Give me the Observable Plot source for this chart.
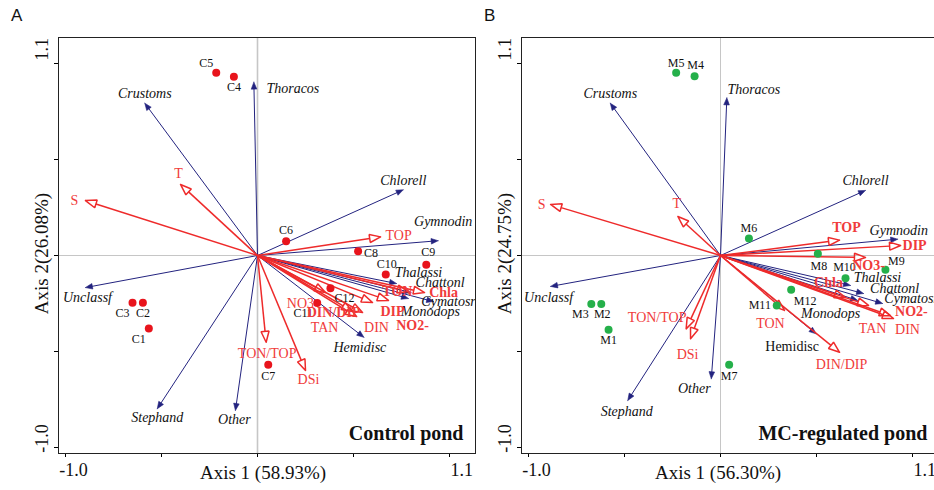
<!DOCTYPE html>
<html>
<head>
<meta charset="utf-8">
<script src="https://cdn.jsdelivr.net/npm/d3@7"></script>
<script src="https://cdn.jsdelivr.net/npm/@observablehq/plot@0.6"></script>
<style>
html, body { margin: 0; padding: 0; overflow: hidden; background: #fff; }
body { width: 934px; height: 490px; position: relative; }
#panelA { position: absolute; left: 0; top: 0; width: 480px; height: 490px; }
#panelB { position: absolute; left: 480px; top: 0; width: 458px; height: 490px; }
.letter { position: absolute; top: 7px; font-family: "Liberation Sans", Arial, sans-serif; font-size: 17px; color: #111; line-height: 1; }
</style>
</head>
<body>
<div id="panelA"></div>
<div id="panelB"></div>
<div class="letter" style="left:11px">A</div>
<div class="letter" style="left:484px">B</div>
<script>
// ---------- Panel A: Control pond ----------
const sitesA = ["C1","C2","C3","C4","C5","C6","C7","C8","C9","C10","C11","C12"];
const siteAx = [-0.566, -0.597, -0.651, -0.123, -0.215, 0.149, 0.056, 0.524, 0.879, 0.668, 0.311, 0.380];
const siteAy = [-0.380, -0.246, -0.246, 0.931, 0.952, 0.074, -0.569, 0.022, -0.048, -0.099, -0.248, -0.170];

const speciesA = ["Crustoms","Thoracos","Chlorell","Gymnodin","Thalassi","Chattonl","Cymatosr","Monodops","Hemidisc","Other","Stephand","Unclassf"];
const specAx = [-0.587, -0.019, 0.759, 0.941, 0.724, 0.800, 0.917, 0.786, 0.554, -0.115, -0.522, -0.896];
const specAy = [0.793, 0.903, 0.342, 0.077, -0.146, -0.193, -0.240, -0.224, -0.426, -0.807, -0.798, -0.167];

const envA = ["S","T","TOP","NO3","DIN/DIP","TAN","DIN","NO2-","DIP","TON","Chla","TON/TOP","DSi"];
const envAx = [-0.896, -0.401, 0.641, 0.354, 0.495, 0.516, 0.547, 0.599, 0.682, 0.786, 0.870, 0.045, 0.250];
const envAy = [0.286, 0.370, 0.097, -0.193, -0.292, -0.318, -0.297, -0.245, -0.234, -0.188, -0.193, -0.452, -0.599];

// ---------- Panel B: MC-regulated pond ----------
const sitesB = ["M1","M2","M3","M4","M5","M6","M7","M8","M9","M10","M11","M12"];
const siteBx = [-0.583, -0.621, -0.673, -0.135, -0.231, 0.148, 0.045, 0.507, 0.859, 0.651, 0.293, 0.368];
const siteBy = [-0.387, -0.252, -0.252, 0.934, 0.952, 0.089, -0.569, 0.009, -0.074, -0.118, -0.260, -0.179];

const speciesB = ["Crustoms","Thoracos","Chlorell","Gymnodin","Thalassi","Chattonl","Cymatosr","Monodops","Hemidisc","Other","Stephand","Unclassf"];
const specBx = [-0.574, 0.033, 0.755, 0.923, 0.677, 0.745, 0.844, 0.714, 0.498, -0.048, -0.483, -0.885];
const specBy = [0.793, 0.821, 0.339, 0.085, -0.156, -0.198, -0.250, -0.234, -0.408, -0.642, -0.755, -0.161];

const envB = ["S","T","TOP","DIP","NO3-","Chla","TAN","NO2-","DIN","TON","DIN/DIP","TON/TOP","DSi"];
const envBx = [-0.885, -0.222, 0.620, 0.938, 0.755, 0.651, 0.771, 0.885, 0.901, 0.333, 0.620, -0.179, -0.156];
const envBy = [0.266, 0.203, 0.080, 0.052, -0.010, -0.219, -0.260, -0.313, -0.328, -0.286, -0.504, -0.382, -0.434];

// axis text
const tickVals = [-1, -0.5, 0, 0.5, 1];
const tickLabelVals = [-1.0, 1.1];
const tickLabels = ["-1.0", "1.1"];

// ---------- label placement (pixel offsets of label centres from points) ----------
const siteAOff = [[-10,11],[0,10],[-10,10],[0,10],[-10,-10],[0,-11],[0,11],[13,2],[2,-13],[1,-10],[-14,10],[14,10]];
const specAOff = [[0,-10],[39,6],[0,-9],[5,-19],[22,-11],[29,-10],[15,0],[22,13],[-4,10],[-1,9],[0,9],[2,10]];
const envAOff = [[-11,0],[-2,-11],[18,-1],[-25,11],[-19,1],[-32,11],[14,15],[40,23],[4,11],[-11,0],[19,0],[1,11],[3,9]];
const siteBOff = [[0,10],[1,10],[-11,10],[1,-11],[0,-10],[0,-10],[0,11],[1,12],[11,-9],[-1,-11],[-17,0],[14,11]];
const specBOff = [[0,-10],[27,-8],[0,-10],[1,-9],[27,-8],[31,-5],[29,-5],[-27,13],[-24,13],[-17,10],[-1,11],[-2,11]];
const envBOff = [[-9,0],[-1,-13],[7,-13],[14,0],[3,8],[-17,-15],[4,23],[21,-4],[14,11],[-14,13],[2,12],[-29,-11],[-3,16]];
const xTickShift = [8, -7];
const yTickShift = [-9, 5];

// ---------- styles ----------
const K = 192; // pixels per unit on both axes (isotropic biplot)
const BLUE = "#23237f", RED = "#ee2b2b", RED_TEXT = "#f03b3b";
const SERIF = "Liberation Serif, Times New Roman, serif";
const BL = 7, BW = 2.8, RL = 11, RW = 4;

function withLabels(names, xs, ys, offs) {
  return names.map((n, i) => ({n, x: xs[i], y: ys[i], lx: xs[i] + offs[i][0] / K, ly: ys[i] - offs[i][1] / K}));
}
function withBase(data, len) {
  return data.map(d => {
    const r = Math.hypot(d.x, d.y);
    return {...d, bx: d.x - d.x / r * len / K, by: d.y - d.y / r * len / K};
  });
}
function heads(data, len, half) {
  const out = [];
  data.forEach(d => {
    const r = Math.hypot(d.x, d.y), ux = d.x / r, uy = d.y / r;
    const L = len / K, W = half / K;
    const bx = d.x - ux * L, by = d.y - uy * L;
    out.push({id: d.n, x: d.x, y: d.y},
             {id: d.n, x: bx - uy * W, y: by + ux * W},
             {id: d.n, x: bx + uy * W, y: by - ux * W},
             {id: d.n, x: d.x, y: d.y});
  });
  return out;
}

function panel(cfg) {
  const sites = withLabels(cfg.sites, cfg.sx, cfg.sy, cfg.sOff);
  const spec = withBase(withLabels(cfg.spec, cfg.px, cfg.py, cfg.pOff), BL - 1);
  const env = withBase(withLabels(cfg.env, cfg.ex, cfg.ey, cfg.eOff), RL);
  const xt = tickLabels.map((t, i) => ({t, v: tickLabelVals[i] + xTickShift[i] / K}));
  const yt = tickLabels.map((t, i) => ({t, v: tickLabelVals[i] - yTickShift[i] / K}));
  const T = {fontFamily: SERIF};
  return Plot.plot({
    width: cfg.width, height: 490,
    marginLeft: cfg.marginLeft, marginRight: cfg.marginRight, marginTop: 37, marginBottom: 37,
    style: {fontFamily: SERIF, background: "white", maxWidth: "none", overflow: "hidden"},
    x: {domain: [-1.0365, 1.1354], ticks: tickVals, tickFormat: () => "", tickSize: 4, label: null},
    y: {domain: [-1.03125, 1.13542], ticks: tickVals, tickFormat: () => "", tickSize: 4, label: null},
    marks: [
      Plot.ruleX([0], {stroke: "#c6c6c6", strokeWidth: cfg.vRule}),
      Plot.ruleY([0], {stroke: "#c6c6c6", strokeWidth: 1}),
      Plot.link(spec, {x1: () => 0, y1: () => 0, x2: "bx", y2: "by", stroke: BLUE, strokeWidth: 1}),
      Plot.line(heads(spec, BL, BW), {x: "x", y: "y", z: "id", fill: BLUE, stroke: BLUE, strokeWidth: 0.6}),
      Plot.link(env, {x1: () => 0, y1: () => 0, x2: "bx", y2: "by", stroke: RED, strokeWidth: 1.5}),
      Plot.line(heads(env, RL, RW), {x: "x", y: "y", z: "id", fill: "none", stroke: RED, strokeWidth: 1.5, strokeLinejoin: "miter"}),
      Plot.dot(sites, {x: "x", y: "y", r: 4, fill: cfg.dot, stroke: "none"}),
      Plot.text(sites, {...T, x: "lx", y: "ly", text: "n", fontSize: 12, fill: "#111"}),
      Plot.text(spec.filter(d => !cfg.upright.includes(d.n)), {...T, x: "lx", y: "ly", text: "n", fontSize: 14, fontStyle: "italic", fill: "#111", clip: true}),
      Plot.text(spec.filter(d => cfg.upright.includes(d.n)), {...T, x: "lx", y: "ly", text: "n", fontSize: 14, fill: "#111", clip: true}),
      Plot.text(env.filter(d => !cfg.bold.includes(d.n)), {...T, x: "lx", y: "ly", text: "n", fontSize: 14, fill: RED_TEXT, clip: true}),
      Plot.text(env.filter(d => cfg.bold.includes(d.n)), {...T, x: "lx", y: "ly", text: "n", fontSize: 14, fontWeight: "bold", fill: RED_TEXT, clip: true}),
      Plot.frame({stroke: "#222"}),
      Plot.text(xt, {...T, x: "v", text: "t", frameAnchor: "bottom", textAnchor: "middle", lineAnchor: "middle", dy: 17, fontSize: 18, fill: "#111"}),
      Plot.text(yt, {...T, y: "v", text: "t", frameAnchor: "left", textAnchor: "middle", lineAnchor: "middle", dx: -16, rotate: -90, fontSize: 18, fill: "#111"}),
      Plot.text([cfg.axis1], {...T, text: d => d, frameAnchor: "bottom", textAnchor: "middle", lineAnchor: "middle", dx: cfg.axis1Dx, dy: 19, fontSize: 19, fill: "#111"}),
      Plot.text([cfg.axis2], {...T, text: d => d, frameAnchor: "left", textAnchor: "middle", lineAnchor: "middle", dx: -17, dy: 8, rotate: -90, fontSize: 19, fill: "#111"}),
      Plot.text([cfg.title], {...T, text: d => d, frameAnchor: "bottom-right", textAnchor: "end", lineAnchor: "middle", dx: cfg.titleDx, dy: -20, fontSize: 20, fontWeight: "bold", fill: "#111"})
    ]
  });
}

document.getElementById("panelA").appendChild(panel({
  width: 480, marginLeft: 58, marginRight: 5, vRule: 1.6,
  sites: sitesA, sx: siteAx, sy: siteAy, sOff: siteAOff, dot: "#e8141c",
  spec: speciesA, px: specAx, py: specAy, pOff: specAOff, upright: [],
  env: envA, ex: envAx, ey: envAy, eOff: envAOff, bold: ["DIN/DIP","DIP","NO2-","TON","Chla"],
  axis1: "Axis 1 (58.93%)", axis1Dx: -4, axis2: "Axis 2(26.08%)",
  title: "Control pond", titleDx: -12
}));

document.getElementById("panelB").appendChild(panel({
  width: 458, marginLeft: 41, marginRight: 0, vRule: 1,
  sites: sitesB, sx: siteBx, sy: siteBy, sOff: siteBOff, dot: "#25b04a",
  spec: speciesB, px: specBx, py: specBy, pOff: specBOff, upright: ["Hemidisc"],
  env: envB, ex: envBx, ey: envBy, eOff: envBOff, bold: ["TOP","DIP","NO3-","Chla","NO2-"],
  axis1: "Axis 1 (56.30%)", axis1Dx: -12, axis2: "Axis 2(24.75%)",
  title: "MC-regulated pond", titleDx: -11
}));
</script>
</body>
</html>
